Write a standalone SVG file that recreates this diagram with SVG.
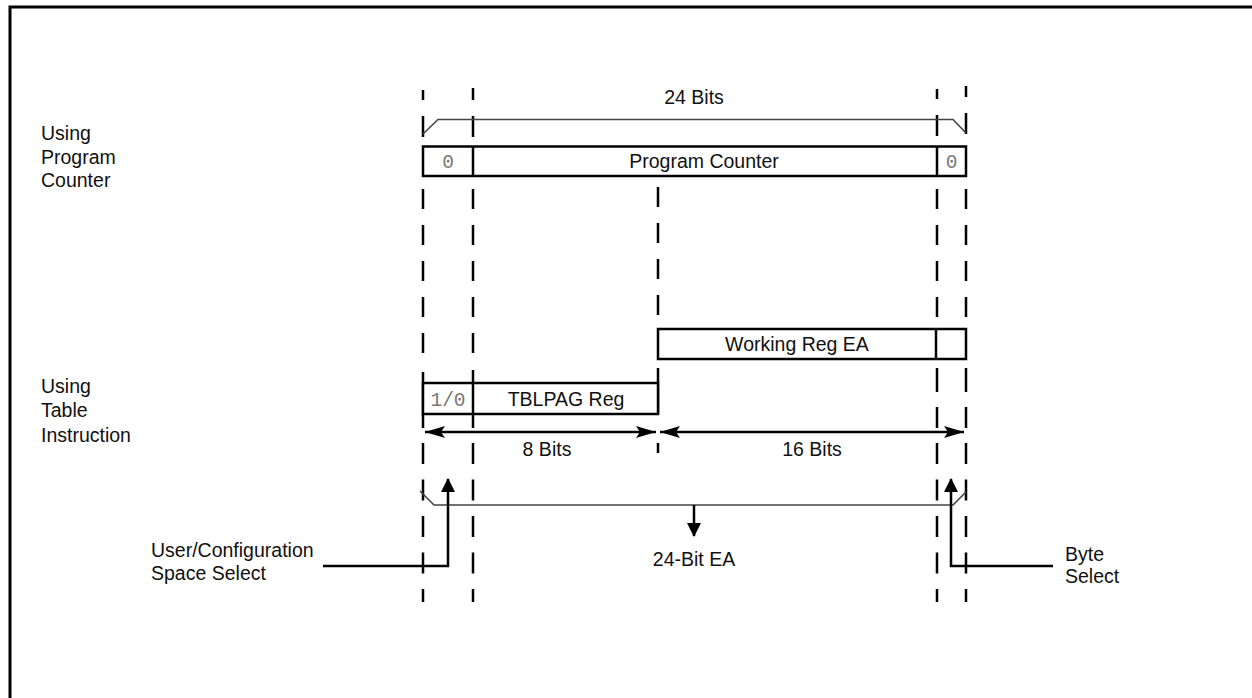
<svg xmlns="http://www.w3.org/2000/svg" width="1252" height="698" viewBox="0 0 1252 698">
<defs>
<style>
.t{font-family:"Liberation Sans",Arial,sans-serif;font-size:19.5px;fill:#111}
.m{font-family:"Liberation Mono","Courier New",monospace;font-size:19.5px;fill:#777}
.box{fill:#fff;stroke:#000;stroke-width:2.5}
.d{stroke:#000;stroke-width:2.5;fill:none}
.dd{stroke:#000;stroke-width:2.5;fill:none;stroke-dasharray:20 16}
.dl{stroke:#000;stroke-width:2.5;fill:none;stroke-dasharray:21 15.5}
.br{stroke:#444;stroke-width:1.6;fill:none}
.ar{stroke:#000;stroke-width:2.5;fill:none}
</style>
<marker id="ah" markerWidth="20" markerHeight="12" refX="20" refY="6" orient="auto-start-reverse" markerUnits="userSpaceOnUse">
<path d="M0,0 L20,6 L0,12 L4,6 Z" fill="#000"/>
</marker>
<marker id="au" markerWidth="15" markerHeight="14" refX="13" refY="7" orient="auto" markerUnits="userSpaceOnUse">
<path d="M0,0 L14,7 L0,14 Z" fill="#000"/>
</marker>
</defs>
<rect width="1252" height="698" fill="#fff"/>
<path d="M10,698 V7 H1252" fill="none" stroke="#000" stroke-width="3"/>

<g id="guides">
<path class="d" d="M423,90 V100 M423,116 V137 M473,88 V100 M473,116 V137 M937,89 V99 M937,115 V136 M966,86 V97 M966,113 V134"/>
<path class="dd" d="M423,189 V355 M473,189 V355 M658,187 V320 M937,189 V320 M966,189 V320"/>
<path class="d" d="M423,372 V428 M473,370 V428 M658,368 V414 M658,443 V453"/>
<path class="d" d="M937,368 V392 M937,407 V428 M966,368 V392 M966,407 V428"/>
<path class="dl" d="M423,443 V602 M473,443 V602 M937,443 V602 M966,443 V602"/>
</g>

<g id="bracket-top">
<path class="br" d="M423,134 L438,119.5 H953 L966,133"/>
<text class="t" x="694" y="104" text-anchor="middle">24 Bits</text>
</g>

<g id="label-pc">
<text class="t" x="41" y="140">Using</text>
<text class="t" x="41" y="164">Program</text>
<text class="t" x="41" y="187">Counter</text>
</g>

<g id="program-counter">
<rect class="box" x="423" y="146.5" width="543" height="29.5"/>
<path class="d" d="M473,146.5 V176 M937,146.5 V176"/>
<text class="m" x="448" y="168" text-anchor="middle">0</text>
<text class="t" x="704" y="168" text-anchor="middle">Program Counter</text>
<text class="m" x="951.5" y="168" text-anchor="middle">0</text>
</g>

<g id="working-reg">
<rect class="box" x="658" y="329" width="308" height="30"/>
<path class="d" d="M936,329 V359"/>
<text class="t" x="797" y="351" text-anchor="middle">Working Reg EA</text>
</g>

<g id="label-table">
<text class="t" x="41" y="393">Using</text>
<text class="t" x="41" y="417">Table</text>
<text class="t" x="41" y="442">Instruction</text>
</g>

<g id="tblpag">
<rect class="box" x="423" y="383" width="235" height="31"/>
<path class="d" d="M473,383 V414"/>
<text class="m" x="448" y="406" text-anchor="middle">1/0</text>
<text class="t" x="566" y="406" text-anchor="middle">TBLPAG Reg</text>
</g>

<g id="connectors">
<path class="ar" d="M425,432 H656" marker-start="url(#ah)" marker-end="url(#ah)"/>
<path class="ar" d="M660,432 H964" marker-start="url(#ah)" marker-end="url(#ah)"/>
<path class="br" d="M420,491 L434,505 H953 L966,492"/>
<path class="ar" d="M694,505 V536" marker-end="url(#au)"/>
<path class="ar" d="M323,566 H448 V479" marker-end="url(#au)"/>
<path class="ar" d="M1053,566 H951 V479" marker-end="url(#au)"/>
</g>

<g id="dim-labels">
<text class="t" x="547" y="456" text-anchor="middle">8 Bits</text>
<text class="t" x="812" y="456" text-anchor="middle">16 Bits</text>
<text class="t" x="694" y="566" text-anchor="middle">24-Bit EA</text>
</g>

<g id="label-user">
<text class="t" x="151" y="557">User/Configuration</text>
<text class="t" x="151" y="580">Space Select</text>
</g>

<g id="label-byte">
<text class="t" x="1065" y="561">Byte</text>
<text class="t" x="1065" y="583">Select</text>
</g>
</svg>
